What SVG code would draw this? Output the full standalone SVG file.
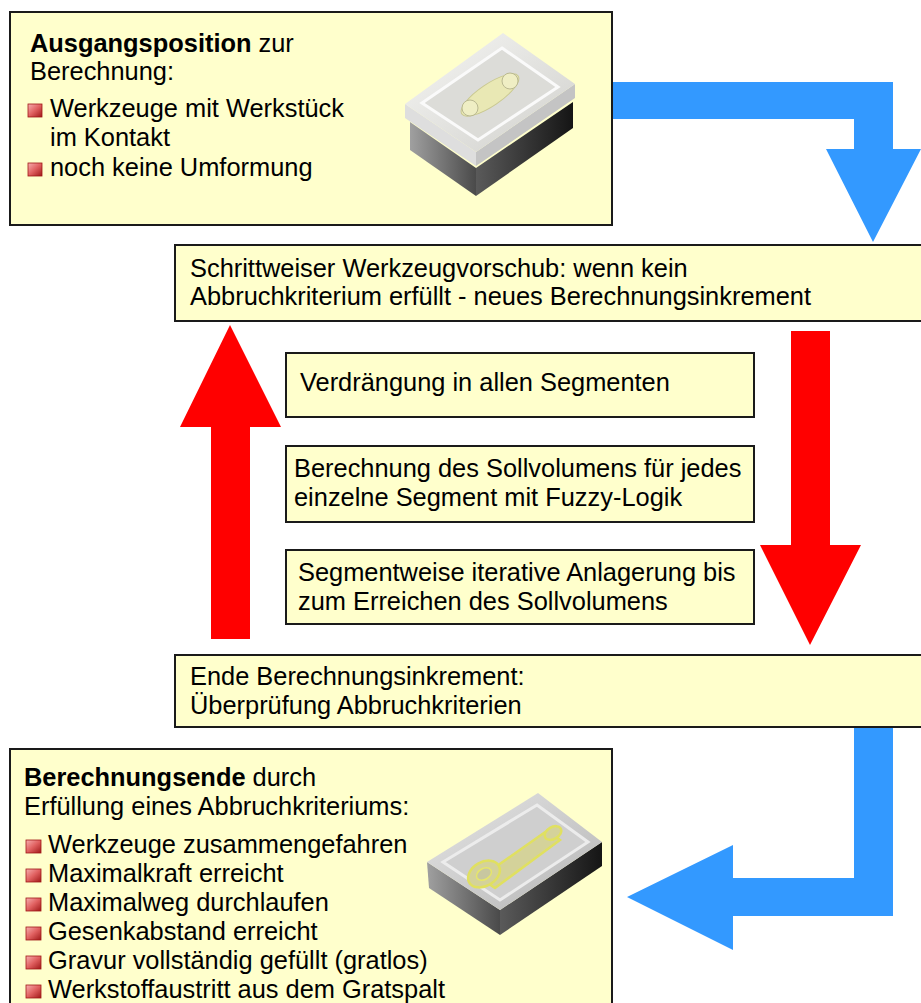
<svg xmlns="http://www.w3.org/2000/svg" width="921" height="1003" viewBox="0 0 921 1003">
  <style>
    .box { fill: #FFFFCC; stroke: #1a1a1a; stroke-width: 2; }
    .t { font-family: "Liberation Sans", Arial, sans-serif; font-size: 25.4px; fill: #000; }
    .b { font-weight: bold; }
    .blue { fill: #3399FF; }
    .red { fill: #FF0000; }
    .bullet { fill: url(#bulletGrad); stroke: #a01818; stroke-width: 0.8; }
  </style>
  <defs>
    <linearGradient id="bulletGrad" x1="0" y1="0" x2="1" y2="1">
      <stop offset="0" stop-color="#f7b0b0"/>
      <stop offset="0.5" stop-color="#e06060"/>
      <stop offset="1" stop-color="#a01818"/>
    </linearGradient>
    <linearGradient id="plateTop" x1="0" y1="0" x2="1" y2="1">
      <stop offset="0" stop-color="#f6f6f4"/>
      <stop offset="1" stop-color="#d0d0cc"/>
    </linearGradient>
    <linearGradient id="darkSideL" x1="0" y1="0" x2="1" y2="0">
      <stop offset="0" stop-color="#a0a0a0"/>
      <stop offset="1" stop-color="#4a4a4a"/>
    </linearGradient>
    <linearGradient id="darkSideR" x1="0" y1="0" x2="1" y2="0">
      <stop offset="0" stop-color="#5a5a5a"/>
      <stop offset="1" stop-color="#151515"/>
    </linearGradient>
    <linearGradient id="blockTop" x1="0" y1="0" x2="1" y2="1">
      <stop offset="0" stop-color="#e6e6e6"/>
      <stop offset="1" stop-color="#b4b4b4"/>
    </linearGradient>
  </defs>

  <!-- connectors -->
  <g id="connectors">
    <!-- blue bent arrow: start box to increment box -->
    <polygon class="blue" points="612,82 893,82 893,149 921,149 873,242 826,149 854,149 854,119 612,119"/>
    <!-- red arrow up on the left -->
    <polygon class="red" points="211,639 211,427 180,427 230,325 281,427 250,427 250,639"/>
    <!-- red arrow down on the right -->
    <polygon class="red" points="791,331 830,331 830,545 861,545 810,645 760,545 791,545"/>
    <!-- blue bent arrow: check box to end box -->
    <polygon class="blue" points="854,727 893,727 893,916 733,916 733,950 627,897 733,845 733,878 854,878"/>
  </g>

  <!-- start position box -->
  <g id="node-start">
    <rect class="box" x="10" y="12" width="602" height="213"/>
    <text class="t" x="30" y="52"><tspan class="b">Ausgangsposition</tspan> zur</text>
    <text class="t" x="30" y="80">Berechnung:</text>
    <rect class="bullet" x="28" y="104" width="14" height="13"/>
    <text class="t" x="50" y="117">Werkzeuge mit Werkstück</text>
    <text class="t" x="50" y="146">im Kontakt</text>
    <rect class="bullet" x="28" y="163" width="14" height="13"/>
    <text class="t" x="50" y="176">noch keine Umformung</text>
    <!-- open die set with blank -->
    <g id="die-open">
      <polygon points="410,122 476,168 476,196 410,150" fill="url(#darkSideL)"/>
      <polygon points="476,168 573,102 573,128 476,196" fill="url(#darkSideR)"/>
      <polygon points="405,104 476,152 476,166 405,118" fill="#dedede"/>
      <polygon points="476,152 575,84 575,98 476,166" fill="#c4c4c4"/>
      <polygon points="503,33 575,84 476,152 405,104" fill="url(#plateTop)"/>
      <polygon points="502,48 558,87 478,140 422,103" fill="#dcdcd8" stroke="#fafafa" stroke-width="3"/>
      <ellipse cx="490" cy="95" rx="34" ry="11" transform="rotate(-34 490 95)" fill="#e9e8b4" stroke="#c9c890" stroke-width="1"/>
      <circle cx="470" cy="108" r="8" fill="#efeec4" stroke="#b9b890" stroke-width="1"/>
      <circle cx="510" cy="81" r="8" fill="#efeec4" stroke="#b9b890" stroke-width="1"/>
    </g>
  </g>

  <!-- increment box -->
  <g id="node-increment">
    <rect class="box" x="175" y="245" width="750" height="76"/>
    <text class="t" x="190" y="277">Schrittweiser Werkzeugvorschub: wenn kein</text>
    <text class="t" x="190" y="305">Abbruchkriterium erfüllt - neues Berechnungsinkrement</text>
  </g>

  <g id="node-displace">
    <rect class="box" x="286" y="353" width="468" height="64"/>
    <text class="t" x="300" y="391">Verdrängung in allen Segmenten</text>
  </g>

  <g id="node-target-volume">
    <rect class="box" x="286" y="446" width="468" height="76"/>
    <text class="t" x="294" y="477">Berechnung des Sollvolumens für jedes</text>
    <text class="t" x="294" y="506">einzelne Segment mit Fuzzy-Logik</text>
  </g>

  <g id="node-deposit">
    <rect class="box" x="286" y="550" width="468" height="74"/>
    <text class="t" x="298" y="581">Segmentweise iterative Anlagerung bis</text>
    <text class="t" x="298" y="610">zum Erreichen des Sollvolumens</text>
  </g>

  <g id="node-check">
    <rect class="box" x="175" y="655" width="750" height="72"/>
    <text class="t" x="190" y="685">Ende Berechnungsinkrement:</text>
    <text class="t" x="190" y="714">Überprüfung Abbruchkriterien</text>
  </g>

  <!-- end of calculation box -->
  <g id="node-end">
    <rect class="box" x="10" y="749" width="602" height="270"/>
    <text class="t" x="24" y="786"><tspan class="b">Berechnungsende</tspan> durch</text>
    <text class="t" x="24" y="815">Erfüllung eines Abbruchkriteriums:</text>
    <rect class="bullet" x="26" y="840" width="15" height="13"/>
    <text class="t" x="48" y="853">Werkzeuge zusammengefahren</text>
    <rect class="bullet" x="26" y="869" width="15" height="13"/>
    <text class="t" x="48" y="882">Maximalkraft erreicht</text>
    <rect class="bullet" x="26" y="898" width="15" height="13"/>
    <text class="t" x="48" y="911">Maximalweg durchlaufen</text>
    <rect class="bullet" x="26" y="927" width="15" height="13"/>
    <text class="t" x="48" y="940">Gesenkabstand erreicht</text>
    <rect class="bullet" x="26" y="956" width="15" height="13"/>
    <text class="t" x="48" y="969">Gravur vollständig gefüllt (gratlos)</text>
    <rect class="bullet" x="26" y="985" width="15" height="13"/>
    <text class="t" x="48" y="998">Werkstoffaustritt aus dem Gratspalt</text>
    <!-- closed die with filled cavity -->
    <g id="die-closed">
      <polygon points="427,862 500,910 500,935 429,888" fill="url(#darkSideL)"/>
      <polygon points="500,910 602,842 602,866 500,935" fill="url(#darkSideR)"/>
      <polygon points="538,793 602,842 500,910 427,862" fill="url(#blockTop)"/>
      <polygon points="537,805 588,842 500,900 443,862" fill="#cfcfcf" stroke="#ececec" stroke-width="3"/>
      <g fill="#d4d29a" stroke="#e0e060" stroke-width="2.5">
        <path d="M 480,878 L 548,830 L 560,840 L 495,888 Z"/>
        <ellipse cx="484" cy="874" rx="17" ry="12" transform="rotate(-30 484 874)"/>
        <ellipse cx="553" cy="833" rx="9" ry="6" transform="rotate(-30 553 833)"/>
      </g>
      <ellipse cx="484" cy="874" rx="8" ry="5.5" transform="rotate(-30 484 874)" fill="#c8c7a0" stroke="#e6e66a" stroke-width="1.5"/>
    </g>
  </g>
</svg>
